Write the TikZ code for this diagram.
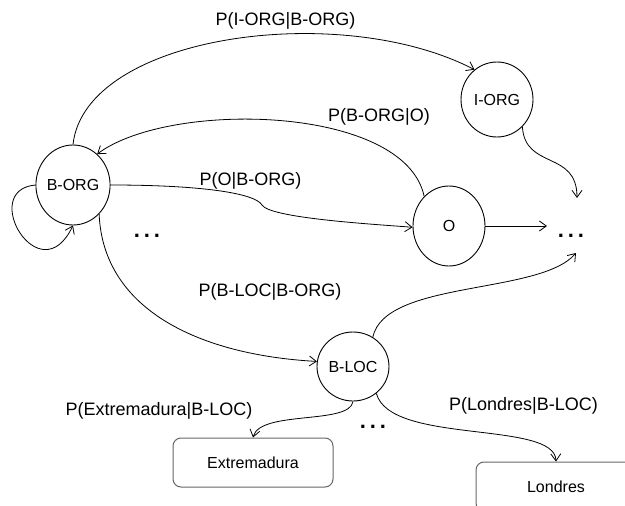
\documentclass[tikz,border=0pt]{standalone}
\usepackage{fontspec}
\setmainfont{Liberation Sans}
\usetikzlibrary{arrows.meta,shapes.geometric}
\begin{document}
\begin{tikzpicture}[x=1pt,y=-1pt,
  state/.style={ellipse, draw, line width=0.9pt, minimum width=72pt, minimum height=80pt, inner sep=0pt, font=\fontsize{16}{19}\selectfont},
  wordbox/.style={draw=black!60, line width=1pt, rounded corners=8pt, minimum width=160pt, minimum height=49pt, inner sep=0pt, font=\fontsize{16}{19}\selectfont},
  lbl/.style={anchor=base, inner sep=0pt, font=\fontsize{18}{21}\selectfont},
  dotsnode/.style={anchor=base, inner sep=0pt, font=\fontsize{22}{24}\selectfont\bfseries},
  trans/.style={-{Straight Barb[length=7pt,width=10pt]}, line width=0.8pt}]
\clip (0,0) rectangle (625,506);
% states
\node[state, minimum height=75pt] (iorg) at (497,99.5) {I-ORG};
\node[state] (borg) at (73,185) {B-ORG};
\node[state] (o) at (449,226) {O};
\node[state, minimum height=69pt] (bloc) at (353,366.5) {B-LOC};
\node[wordbox] (ext) at (253,462.5) {Extremadura};
\node[wordbox] (lon) at (556,486.5) {Londres};
% dots
\node[dotsnode] (dA) at (147,237.8) {.\kern3.9pt.\kern3.9pt.};
\node[dotsnode] (dB) at (571,237.8) {.\kern3.9pt.\kern3.9pt.};
\node[dotsnode] (dC) at (373,428.8) {.\kern3.9pt.\kern3.9pt.};
% free ends
\coordinate (eO) at (547,226);
\coordinate (eI) at (577,198);
\coordinate (eL) at (576,253);
\coordinate (kink) at (262,205);
% labels
\node[lbl] (l1) at (285.5,25) {P(I-ORG|B-ORG)};
\node[lbl] (l2) at (379,121) {P(B-ORG|O)};
\node[lbl] (l3) at (250.5,185) {P(O|B-ORG)};
\node[lbl] (l4) at (270,296) {P(B-LOC|B-ORG)};
\node[lbl] (l5) at (159,415) {P(Extremadura|B-LOC)};
\node[lbl] (l6) at (523.5,410) {P(Londres|B-LOC)};
% transitions
\draw[trans] (borg.north) .. controls (85,35) and (340,0) .. (iorg.127);
\draw[trans] (o.130) .. controls (405,105) and (170,100) .. (borg.52);
\draw[trans] (borg.east) .. controls (200,185) and (255,193) .. (kink) .. controls (270,218) and (370,224) .. (o.182);
\draw[trans] (borg.west) .. controls (-22,190) and (40,295) .. (borg.south);
\draw[trans] (borg.-48) .. controls (103,310) and (200,355) .. (bloc.172);
\draw[trans] (o.east) -- (eO);
\draw[trans] (iorg.-47) .. controls (525,170) and (577,150) .. (eI);
\draw[trans] (bloc.56) .. controls (385,280) and (540,295) .. (eL);
\draw[trans] (bloc.south) .. controls (350,425) and (260,410) .. (ext.north);
\draw[trans] (bloc.-49) .. controls (390,445) and (555,420) .. (lon.north);
\end{tikzpicture}
\end{document}
